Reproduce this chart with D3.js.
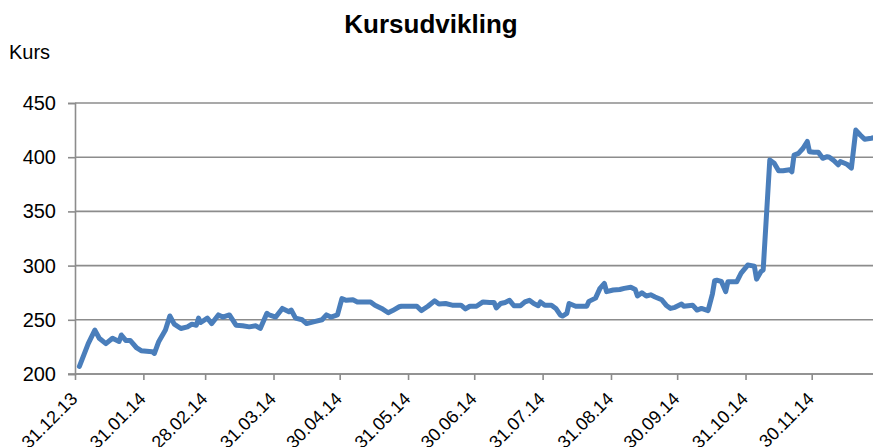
<!DOCTYPE html>
<html>
<head>
<meta charset="utf-8">
<script src="https://cdn.jsdelivr.net/npm/d3@7"></script>
<style>
  html, body { margin: 0; padding: 0; background: #fff; }
  svg { display: block; font-family: "Liberation Sans", Arial, sans-serif; }
</style>
</head>
<body>
<svg id="chart" width="873" height="447"></svg>
<script>
// ---- data ----
const dates = [
  "2014-01-02","2014-01-06","2014-01-09","2014-01-11","2014-01-14","2014-01-17","2014-01-20","2014-01-21","2014-01-23","2014-01-25","2014-01-28","2014-01-30",
  "2014-02-04","2014-02-05","2014-02-07","2014-02-10","2014-02-12","2014-02-14","2014-02-17","2014-02-20","2014-02-22","2014-02-24","2014-02-25","2014-02-26",
  "2014-03-01","2014-03-03","2014-03-06","2014-03-08","2014-03-11","2014-03-14","2014-03-17","2014-03-20","2014-03-23","2014-03-25","2014-03-28","2014-03-29",
  "2014-04-01","2014-04-04","2014-04-07","2014-04-08","2014-04-10","2014-04-13","2014-04-15","2014-04-19","2014-04-22","2014-04-24","2014-04-26","2014-04-29",
  "2014-05-01","2014-05-03","2014-05-06","2014-05-08","2014-05-11","2014-05-14","2014-05-16","2014-05-19","2014-05-22","2014-05-24","2014-05-27","2014-05-28",
  "2014-06-01","2014-06-04","2014-06-06","2014-06-09","2014-06-12","2014-06-14","2014-06-17","2014-06-20","2014-06-24","2014-06-26","2014-06-28",
  "2014-07-01","2014-07-04","2014-07-07","2014-07-09","2014-07-10","2014-07-12","2014-07-14","2014-07-16","2014-07-18","2014-07-21","2014-07-23","2014-07-25","2014-07-27","2014-07-29","2014-07-30",
  "2014-08-01","2014-08-04","2014-08-06","2014-08-08","2014-08-09","2014-08-11","2014-08-12","2014-08-15","2014-08-18","2014-08-20","2014-08-21","2014-08-24","2014-08-26","2014-08-28","2014-08-29",
  "2014-09-01","2014-09-04","2014-09-06","2014-09-09","2014-09-11","2014-09-12","2014-09-14","2014-09-16","2014-09-18","2014-09-20","2014-09-23","2014-09-25","2014-09-27","2014-09-29",
  "2014-10-02","2014-10-03","2014-10-07","2014-10-09","2014-10-11","2014-10-14","2014-10-16","2014-10-17","2014-10-18","2014-10-20","2014-10-22","2014-10-23","2014-10-27","2014-10-29",
  "2014-11-01","2014-11-04","2014-11-05","2014-11-07","2014-11-08","2014-11-11","2014-11-13","2014-11-15","2014-11-17","2014-11-20","2014-11-21","2014-11-22","2014-11-24","2014-11-26","2014-11-28","2014-11-29",
  "2014-12-01","2014-12-03","2014-12-05","2014-12-07","2014-12-08","2014-12-10","2014-12-12","2014-12-13","2014-12-16","2014-12-18","2014-12-20","2014-12-22","2014-12-24","2014-12-27","2014-12-29"
];
const kurs = [
  207,228,240.5,233,228,233,230,236,231,231,224,221.5,
  220.5,219,230,240.5,253.5,246,242,243.5,246,245,251.5,247.5,
  251.5,246.5,254.5,252.5,254.5,245,244.5,243.5,244.5,242,256,254.5,
  252.5,260.5,257.5,259,251.5,250,246.5,248.5,250,254.5,252.5,254.5,
  269.5,268,268.5,266.5,266.5,266.5,263.5,260.5,256.5,258.5,262,262.5,
  262.5,262.5,258.5,262.5,267.5,264.5,265,263.5,263.5,260,262.5,
  262.5,266.5,266,266,261,265,266,268,263,263,266.5,268,265,263,266.5,
  263.5,263.5,260.5,254.5,253.5,256,265,262.5,262.5,262.5,267,270,279,283.5,276,
  277.5,278,279,280,278,272,275,272,273,271,268.5,263.5,260.5,261.5,
  264.5,262.5,263.5,259,260.5,258.5,274,286,286.5,285.5,276,285,285,293,
  300.5,299.5,287.5,294.5,296,397.5,394.5,387.5,387.5,388.5,386.5,402,403.5,408,414.5,405,
  404.5,404.5,399,400.5,400,397,393,396,393.5,390,425,420.5,416.5,417.5,418.5
];
const xTickLabels = ["31.12.13","31.01.14","28.02.14","31.03.14","30.04.14","31.05.14","30.06.14","31.07.14","31.08.14","30.09.14","31.10.14","30.11.14"];
const yTicks = [200, 250, 300, 350, 400, 450];
const title = "Kursudvikling";
const yLabel = "Kurs";

// ---- chart ----
const svg = d3.select("#chart");
const parseISO = d3.utcParse("%Y-%m-%d");
const parseTick = d3.utcParse("%d.%m.%y");
const fmtTick = d3.utcFormat("%d.%m.%y");

const data = dates.map((d, i) => ({ date: parseISO(d), value: kurs[i] }));

const plotLeft = 75, plotTop = 103, plotBottom = 374;
const x = d3.scaleUtc()
  .domain([parseISO("2013-12-31"), parseISO("2014-12-31")])
  .range([plotLeft, plotLeft + 365 * 2.2057]);
const y = d3.scaleLinear().domain([200, 450]).range([plotBottom, plotTop]);

const gridColor = "#8c8c8c";

// horizontal gridlines
svg.append("g")
  .selectAll("line")
  .data(yTicks)
  .join("line")
  .attr("x1", plotLeft).attr("x2", 873)
  .attr("y1", d => y(d)).attr("y2", d => y(d))
  .attr("stroke", gridColor).attr("stroke-width", 1.6);

// y axis
const yAxis = svg.append("g")
  .attr("transform", `translate(${plotLeft},0)`)
  .call(d3.axisLeft(y).tickValues(yTicks).tickSize(7).tickPadding(12).tickFormat(d3.format("d")));
yAxis.select(".domain").attr("stroke", gridColor).attr("stroke-width", 1.6);
yAxis.selectAll(".tick line").attr("stroke", gridColor).attr("stroke-width", 1.6);
yAxis.selectAll(".tick text")
  .attr("font-size", 20).attr("fill", "#000")
  .attr("font-family", "Liberation Sans, Arial, sans-serif");

// x axis
const xAxis = svg.append("g")
  .attr("transform", `translate(0,${plotBottom})`)
  .call(d3.axisBottom(x).tickValues(xTickLabels.map(parseTick)).tickSize(6).tickSizeOuter(0).tickFormat(fmtTick));
xAxis.select(".domain").attr("stroke", gridColor).attr("stroke-width", 1.6)
  .attr("d", `M${plotLeft - 7},0H873`);
xAxis.selectAll(".tick line").attr("stroke", gridColor).attr("stroke-width", 1.6);
xAxis.selectAll(".tick text")
  .attr("font-size", 18).attr("fill", "#000")
  .attr("font-family", "Liberation Sans, Arial, sans-serif")
  .attr("text-anchor", "end")
  .attr("dy", 0)
  .attr("y", 0)
  .attr("transform", "translate(3,26) rotate(-45)");

// line
svg.append("path")
  .datum(data)
  .attr("fill", "none")
  .attr("stroke", "#4a7ebb")
  .attr("stroke-width", 5)
  .attr("stroke-linejoin", "round")
  .attr("stroke-linecap", "round")
  .attr("d", d3.line().x(d => x(d.date)).y(d => y(d.value)));

// title
svg.append("text")
  .attr("x", 431).attr("y", 33)
  .attr("text-anchor", "middle")
  .attr("font-size", 26).attr("font-weight", "bold")
  .text(title);

// y label
svg.append("text")
  .attr("x", 9).attr("y", 59)
  .attr("font-size", 20)
  .text(yLabel);
</script>
</body>
</html>
